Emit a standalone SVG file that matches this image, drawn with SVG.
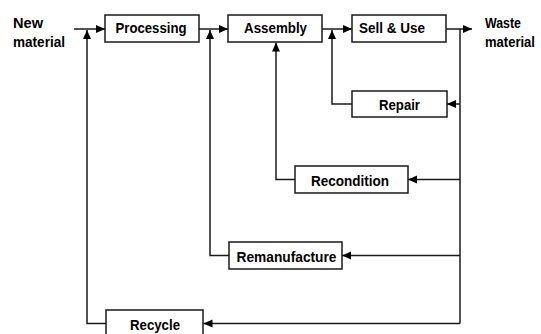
<svg xmlns="http://www.w3.org/2000/svg" width="541" height="334" viewBox="0 0 541 334">
<style>
.box{fill:#fff;stroke:#1a1a1a;stroke-width:1.5}
.t{font-family:"Liberation Sans",Arial,sans-serif;font-weight:bold;font-size:15px;fill:#000;text-anchor:middle}
.l{font-family:"Liberation Sans",Arial,sans-serif;font-weight:bold;font-size:15px;fill:#000}
.c{fill:none;stroke:#1a1a1a;stroke-width:1.5}
</style>
<defs>
<marker id="ah" markerUnits="userSpaceOnUse" markerWidth="10" markerHeight="10" viewBox="0 0 10 10" refX="9" refY="5" orient="auto">
<path d="M0,1 L9,5 L0,9 Z" fill="#000"/>
</marker>
</defs>
<rect width="541" height="334" fill="#fff"/>
<g id="labels">
<text class="l" x="13" y="28" textLength="30" lengthAdjust="spacingAndGlyphs">New</text>
<text class="l" x="13" y="46.5" textLength="52" lengthAdjust="spacingAndGlyphs">material</text>
<text class="l" x="485" y="28" textLength="36" lengthAdjust="spacingAndGlyphs">Waste</text>
<text class="l" x="485" y="46.5" textLength="50" lengthAdjust="spacingAndGlyphs">material</text>
</g>
<g id="connectors">
<path class="c" d="M74,29 H105" marker-end="url(#ah)"/>
<path class="c" d="M199,29 H228" marker-end="url(#ah)"/>
<path class="c" d="M322,29 H352" marker-end="url(#ah)"/>
<path class="c" d="M446,29 H472" marker-end="url(#ah)"/>
<path class="c" d="M460,29 V323.5"/>
<path class="c" d="M460,104 H447" marker-end="url(#ah)"/>
<path class="c" d="M460,179.5 H408" marker-end="url(#ah)"/>
<path class="c" d="M460,255.5 H342" marker-end="url(#ah)"/>
<path class="c" d="M460,323.5 H203.5" marker-end="url(#ah)"/>
<path class="c" d="M352,104 H332 V30" marker-end="url(#ah)"/>
<path class="c" d="M295,179.5 H276 V42.5" marker-end="url(#ah)"/>
<path class="c" d="M229,255.5 H210 V30" marker-end="url(#ah)"/>
<path class="c" d="M106,323.5 H87 V30" marker-end="url(#ah)"/>
</g>
<g id="processing">
<rect class="box" x="105" y="15" width="94" height="27"/>
<text class="t" x="151" y="32.5" textLength="71" lengthAdjust="spacingAndGlyphs">Processing</text>
</g>
<g id="assembly">
<rect class="box" x="228" y="15" width="94" height="27"/>
<text class="t" x="275.5" y="32.5" textLength="63" lengthAdjust="spacingAndGlyphs">Assembly</text>
</g>
<g id="sell-use">
<rect class="box" x="352" y="15" width="94" height="27"/>
<text class="t" x="392" y="32.5" textLength="66" lengthAdjust="spacingAndGlyphs">Sell &amp; Use</text>
</g>
<g id="repair">
<rect class="box" x="352" y="91" width="95" height="26"/>
<text class="t" x="399.5" y="109.5" textLength="41" lengthAdjust="spacingAndGlyphs">Repair</text>
</g>
<g id="recondition">
<rect class="box" x="295" y="166" width="113" height="27"/>
<text class="t" x="350" y="186" textLength="78" lengthAdjust="spacingAndGlyphs">Recondition</text>
</g>
<g id="remanufacture">
<rect class="box" x="229" y="242" width="113" height="27"/>
<text class="t" x="286.5" y="262" textLength="100" lengthAdjust="spacingAndGlyphs">Remanufacture</text>
</g>
<g id="recycle">
<rect class="box" x="106" y="310" width="97" height="28"/>
<text class="t" x="155" y="330" textLength="50" lengthAdjust="spacingAndGlyphs">Recycle</text>
</g>
</svg>
